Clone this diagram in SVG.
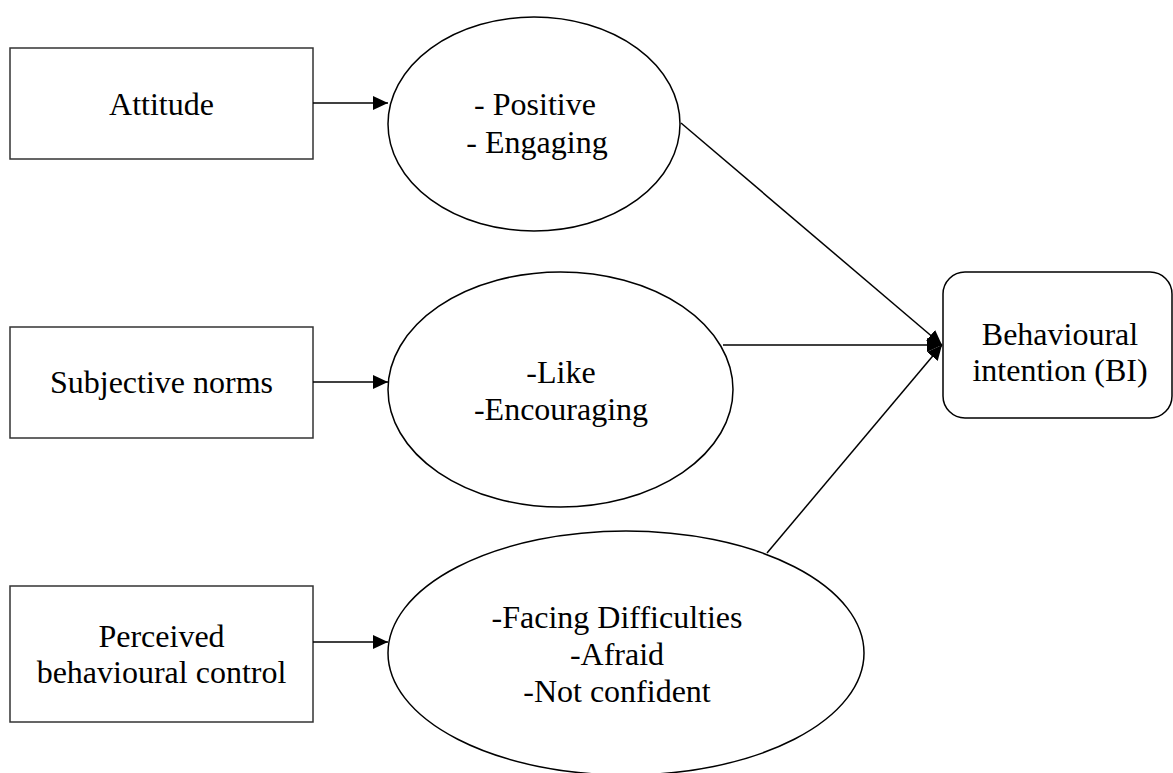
<svg xmlns="http://www.w3.org/2000/svg" width="1173" height="773" viewBox="0 0 1173 773">
<defs>
<style>
.box{fill:#fff;stroke:#333;stroke-width:1.5}
.ell{fill:#fff;stroke:#000;stroke-width:1.5}
.lbl{font-family:"Liberation Serif","Times New Roman",serif;font-size:32px;fill:#000;text-anchor:middle}
.con{stroke:#000;stroke-width:1.5;fill:none;marker-end:url(#arr)}
</style>
<marker id="arr" markerUnits="userSpaceOnUse" markerWidth="16" markerHeight="14" refX="15" refY="7" orient="auto">
<path d="M0,0 L15,7 L0,14 z" fill="#000"/>
</marker>
</defs>
<rect width="1173" height="773" fill="#fff"/>
<g id="attitude">
<rect class="box" x="10" y="48" width="303" height="111"/>
<text class="lbl" x="161.5" y="115">Attitude</text>
</g>
<g id="subjective-norms">
<rect class="box" x="10" y="327" width="303" height="111"/>
<text class="lbl" x="161.5" y="393">Subjective norms</text>
</g>
<g id="perceived-control">
<rect class="box" x="10" y="586" width="303" height="136"/>
<text class="lbl" x="161.5" y="647">Perceived</text>
<text class="lbl" x="161.5" y="683">behavioural control</text>
</g>
<g id="attitude-ellipse">
<ellipse class="ell" cx="534" cy="124" rx="146" ry="107"/>
<text class="lbl" x="535" y="115">- Positive</text>
<text class="lbl" x="537" y="153">- Engaging</text>
</g>
<g id="norms-ellipse">
<ellipse class="ell" cx="560.5" cy="389.5" rx="172.5" ry="117.5"/>
<text class="lbl" x="561" y="383">-Like</text>
<text class="lbl" x="561" y="420">-Encouraging</text>
</g>
<g id="control-ellipse">
<ellipse class="ell" cx="626" cy="653" rx="238" ry="122"/>
<text class="lbl" x="617" y="628">-Facing Difficulties</text>
<text class="lbl" x="617" y="665">-Afraid</text>
<text class="lbl" x="617" y="702">-Not confident</text>
</g>
<g id="behavioural-intention">
<rect class="box" x="943" y="272" width="229" height="146" rx="22" ry="22" style="stroke:#000"/>
<text class="lbl" x="1060" y="345">Behavioural</text>
<text class="lbl" x="1060" y="381">intention (BI)</text>
</g>
<g id="connectors">
<line class="con" x1="313" y1="103" x2="388" y2="103"/>
<line class="con" x1="313" y1="382" x2="388" y2="382"/>
<line class="con" x1="313" y1="642" x2="388" y2="642"/>
<line class="con" x1="681" y1="123" x2="942" y2="345"/>
<line class="con" x1="723" y1="345" x2="942" y2="345"/>
<line class="con" x1="767" y1="553" x2="942" y2="345"/>
</g>
</svg>
